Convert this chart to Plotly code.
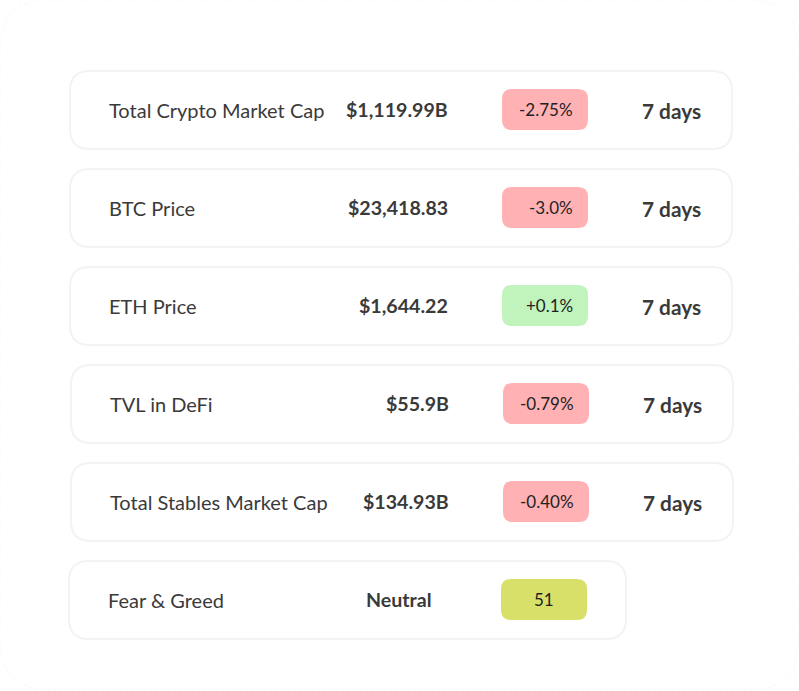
import plotly.graph_objects as go

# data
metric_names = ["Total Crypto Market Cap", "BTC Price", "ETH Price", "TVL in DeFi", "Total Stables Market Cap", "Fear & Greed"]
metric_values = ["$1,119.99B", "$23,418.83", "$1,644.22", "$55.9B", "$134.93B", "Neutral"]
changes = ["-2.75%", "-3.0%", "+0.1%", "-0.79%", "-0.40%", "51"]
periods = ["7 days", "7 days", "7 days", "7 days", "7 days", ""]

# layout of each row, in page pixels
row_left = [70, 70, 70, 71, 71, 69]
row_right = [732, 732, 732, 733, 733, 626]
row_top = [71, 169, 267, 365, 463, 561]
ROW_H = 78
CHIP_H = 41

RED, GREEN, OLIVE = "#ffb1b4", "#c1f3bc", "#d8e06a"
FONT = "Lato"
DARK = "#3a3a3a"


def rounded(x0, y0, x1, y1, r):
    return (f"M{x0+r},{y0} L{x1-r},{y0} Q{x1},{y0} {x1},{y0+r} L{x1},{y1-r} Q{x1},{y1} {x1-r},{y1} "
            f"L{x0+r},{y1} Q{x0},{y1} {x0},{y1-r} L{x0},{y0+r} Q{x0},{y0} {x0+r},{y0} Z")


def chip_color(txt):
    if txt.startswith("-"):
        return RED
    if txt.startswith("+"):
        return GREEN
    return OLIVE


fig = go.Figure()

# faint outer card
fig.add_shape(type="path", path=rounded(0, 0, 798, 690, 50),
              line=dict(color="#f8f8f8", width=1, dash="dot"), fillcolor="white")

for i, name in enumerate(metric_names):
    left, right, top = row_left[i], row_right[i], row_top[i]
    mid = top + ROW_H / 2
    fig.add_shape(type="path", path=rounded(left, top, right, top + ROW_H, 20),
                  line=dict(color="#f3f3f3", width=2), fillcolor="white")
    chip_x = left + 432
    fig.add_shape(type="path", path=rounded(chip_x, top + 18, chip_x + 86, top + 18 + CHIP_H, 10),
                  line=dict(width=0), fillcolor=chip_color(changes[i]))

    fig.add_annotation(x=left + 37.5, y=mid, text=name, xanchor="left",
                       font=dict(size=20, color=DARK, family=FONT))
    if periods[i]:
        fig.add_annotation(x=left + 378.5, y=mid - 0.5, text=f"<b>{metric_values[i]}</b>", xanchor="right",
                           font=dict(size=19.6, color=DARK, family=FONT))
        fig.add_annotation(x=left + 504, y=mid - 1, text=changes[i], xanchor="right",
                           font=dict(size=17, color="#222222", family=FONT))
        fig.add_annotation(x=left + 632, y=mid + 0.5, text=f"<b>{periods[i]}</b>", xanchor="right",
                           font=dict(size=20.8, color=DARK, family=FONT))
    else:
        fig.add_annotation(x=left + 330, y=mid - 0.5, text=f"<b>{metric_values[i]}</b>", xanchor="center",
                           font=dict(size=19.6, color=DARK, family=FONT))
        fig.add_annotation(x=chip_x + 43, y=mid - 0.5, text=changes[i], xanchor="center",
                           font=dict(size=17, color="#222222", family=FONT))

fig.update_annotations(showarrow=False, yanchor="middle", borderpad=0)
fig.update_xaxes(range=[0, 799], visible=False, fixedrange=True)
fig.update_yaxes(range=[691, 0], visible=False, fixedrange=True)
fig.update_layout(width=799, height=691, margin=dict(l=0, r=0, t=0, b=0),
                  paper_bgcolor="white", plot_bgcolor="white", showlegend=False)

fig.write_html("out.html", config={"displayModeBar": False},
               post_script="document.body.style.margin='0';")
